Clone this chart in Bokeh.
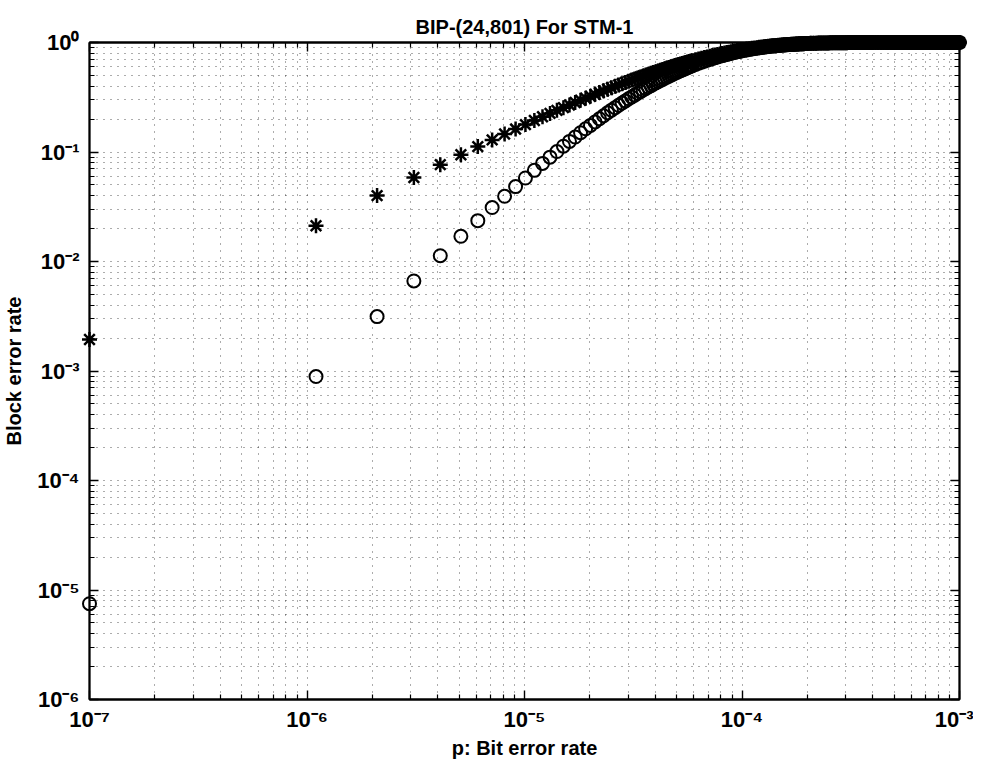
from bokeh.plotting import figure
from bokeh.models import LogAxis, CustomJSTickFormatter, FixedTicker, Range1d
from bokeh.embed import file_html
from bokeh.resources import INLINE

# ---- data (p in units of 1e-6) ----
p_micro = [
    0.1, 1.1, 2.1, 3.1, 4.1, 5.1, 6.1, 7.1, 8.1, 9.1,
    10.1, 11.1, 12.1, 13.1, 14.1, 15.1, 16.1, 17.1, 18.1, 19.1,
    20.1, 21.1, 22.1, 23.1, 24.1, 25.1, 26.1, 27.1, 28.1, 29.1,
    30.1, 31.1, 32.1, 33.1, 34.1, 35.1, 36.1, 37.1, 38.1, 39.1,
    40.1, 41.1, 42.1, 43.1, 44.1, 45.1, 46.1, 47.1, 48.1, 49.1,
    50.1, 51.1, 52.1, 53.1, 54.1, 55.1, 56.1, 57.1, 58.1, 59.1,
    61.1, 63.1, 65.1, 67.1, 69.1, 71.1, 73.1, 75.1, 77.1, 79.1,
    81.1, 83.1, 85.1, 87.1, 89.1, 91.1, 93.1, 95.1, 97.1, 99.1,
    102.1, 105.1, 108.1, 111.1, 114.1, 117.1, 120.1, 123.1, 126.1, 129.1,
    132.1, 135.1, 138.1, 141.1, 144.1, 147.1, 150.1, 153.1, 156.1, 159.1,
    162.1, 165.1, 168.1, 171.1, 174.1, 177.1, 180.1, 183.1, 186.1, 189.1,
    192.1, 195.1, 198.1, 201.1,
    207.1, 213.1, 219.1, 225.1, 231.1, 237.1, 243.1, 249.1, 255.1, 261.1,
    267.1, 273.1, 279.1, 285.1, 291.1, 297.1, 303.1, 309.1, 315.1, 321.1,
    327.1, 333.1, 339.1, 345.1, 351.1, 357.1, 363.1, 369.1, 375.1, 381.1,
    387.1, 393.1, 399.1,
    411.1, 423.1, 435.1, 447.1, 459.1, 471.1, 483.1, 495.1, 507.1, 519.1,
    531.1, 543.1, 555.1, 567.1, 579.1, 591.1, 603.1, 615.1, 627.1, 639.1,
    651.1, 663.1, 675.1, 687.1, 699.1, 711.1, 723.1, 735.1, 747.1, 759.1,
    771.1, 783.1, 795.1, 807.1, 819.1, 831.1, 843.1, 855.1, 867.1, 879.1,
    891.1, 903.1, 915.1, 927.1, 939.1, 951.1, 963.1, 975.1, 987.1, 999.1,
]

star_rate = [
    0.00194, 0.0212, 0.0400, 0.0585, 0.0766, 0.0944, 0.112, 0.129, 0.146, 0.162,
    0.178, 0.194, 0.210, 0.225, 0.240, 0.254, 0.269, 0.283, 0.297, 0.310,
    0.323, 0.336, 0.349, 0.362, 0.374, 0.386, 0.398, 0.410, 0.421, 0.432,
    0.443, 0.454, 0.464, 0.475, 0.485, 0.495, 0.504, 0.514, 0.523, 0.532,
    0.541, 0.550, 0.559, 0.567, 0.576, 0.584, 0.592, 0.600, 0.607, 0.615,
    0.622, 0.630, 0.637, 0.644, 0.651, 0.657, 0.664, 0.670, 0.677, 0.683,
    0.695, 0.707, 0.718, 0.729, 0.739, 0.749, 0.759, 0.768, 0.777, 0.785,
    0.793, 0.801, 0.809, 0.816, 0.823, 0.830, 0.836, 0.843, 0.849, 0.854,
    0.863, 0.870, 0.878, 0.885, 0.891, 0.897, 0.903, 0.909, 0.914, 0.919,
    0.923, 0.928, 0.932, 0.936, 0.939, 0.943, 0.946, 0.949, 0.952, 0.955,
    0.957, 0.960, 0.962, 0.964, 0.966, 0.968, 0.970, 0.972, 0.973, 0.975,
    0.976, 0.977, 0.979, 0.980,
    0.982, 0.984, 0.986, 0.987, 0.989, 0.990, 0.991, 0.992, 0.993, 0.994,
    0.994, 0.995, 0.996, 0.996, 0.997, 0.997, 0.997, 0.998, 0.998, 0.998,
    0.998, 0.998, 0.999, 0.999, 0.999, 0.999, 0.999, 0.999, 0.999, 0.999,
    0.999, 1.0, 1.0,
    1.0, 1.0, 1.0, 1.0, 1.0, 1.0, 1.0, 1.0, 1.0, 1.0,
    1.0, 1.0, 1.0, 1.0, 1.0, 1.0, 1.0, 1.0, 1.0, 1.0,
    1.0, 1.0, 1.0, 1.0, 1.0, 1.0, 1.0, 1.0, 1.0, 1.0,
    1.0, 1.0, 1.0, 1.0, 1.0, 1.0, 1.0, 1.0, 1.0, 1.0,
    1.0, 1.0, 1.0, 1.0, 1.0, 1.0, 1.0, 1.0, 1.0, 1.0,
]

circle_rate = [
    7.5e-6, 8.9e-4, 0.00314, 0.00664, 0.0113, 0.0170, 0.0236, 0.0311, 0.0394, 0.0483,
    0.0579, 0.0680, 0.0787, 0.0897, 0.101, 0.113, 0.125, 0.137, 0.150, 0.163,
    0.175, 0.188, 0.201, 0.214, 0.228, 0.241, 0.254, 0.267, 0.280, 0.293,
    0.306, 0.318, 0.331, 0.344, 0.356, 0.368, 0.380, 0.392, 0.404, 0.416,
    0.428, 0.439, 0.450, 0.461, 0.472, 0.483, 0.493, 0.504, 0.514, 0.524,
    0.534, 0.543, 0.553, 0.562, 0.571, 0.580, 0.589, 0.598, 0.606, 0.614,
    0.630, 0.646, 0.661, 0.675, 0.689, 0.702, 0.714, 0.726, 0.738, 0.749,
    0.759, 0.770, 0.779, 0.788, 0.797, 0.806, 0.814, 0.822, 0.829, 0.836,
    0.846, 0.856, 0.865, 0.873, 0.881, 0.888, 0.895, 0.901, 0.907, 0.913,
    0.918, 0.923, 0.927, 0.932, 0.936, 0.940, 0.943, 0.947, 0.950, 0.953,
    0.955, 0.958, 0.961, 0.963, 0.965, 0.967, 0.969, 0.971, 0.972, 0.974,
    0.976, 0.977, 0.978, 0.980,
    0.982, 0.984, 0.986, 0.987, 0.989, 0.990, 0.991, 0.992, 0.993, 0.994,
    0.994, 0.995, 0.996, 0.996, 0.997, 0.997, 0.997, 0.998, 0.998, 0.998,
    0.998, 0.998, 0.999, 0.999, 0.999, 0.999, 0.999, 0.999, 0.999, 0.999,
    0.999, 1.0, 1.0,
    1.0, 1.0, 1.0, 1.0, 1.0, 1.0, 1.0, 1.0, 1.0, 1.0,
    1.0, 1.0, 1.0, 1.0, 1.0, 1.0, 1.0, 1.0, 1.0, 1.0,
    1.0, 1.0, 1.0, 1.0, 1.0, 1.0, 1.0, 1.0, 1.0, 1.0,
    1.0, 1.0, 1.0, 1.0, 1.0, 1.0, 1.0, 1.0, 1.0, 1.0,
    1.0, 1.0, 1.0, 1.0, 1.0, 1.0, 1.0, 1.0, 1.0, 1.0,
]

x_decades = [-7, -6, -5, -4, -3]
y_decades = [-6, -5, -4, -3, -2, -1, 0]
title_text = "BIP-(24,801) For STM-1"
x_label = "p: Bit error rate"
y_label = "Block error rate"

assert len(p_micro) == len(star_rate) == len(circle_rate), (len(p_micro), len(star_rate), len(circle_rate))
p_values = [v * 1e-6 for v in p_micro]

FONT = "Liberation Sans"

x_major = [10.0 ** e for e in x_decades]
y_major = [10.0 ** e for e in y_decades]
x_minor = [m * 10.0 ** e for e in x_decades[:-1] for m in range(2, 10)]
y_minor = [m * 10.0 ** e for e in y_decades[:-1] for m in range(2, 10)]

p = figure(frame_width=870, frame_height=657,
           x_axis_type="log", y_axis_type="log",
           x_range=Range1d(x_major[0], x_major[-1]),
           y_range=Range1d(y_major[0], y_major[-1]),
           output_backend="svg", toolbar_location=None,
           min_border_left=81, min_border_right=14,
           min_border_top=42, min_border_bottom=55,
           title=title_text)

sup_js = """
const sup = {"-":"\u207b","0":"\u2070","1":"\u00b9","2":"\u00b2","3":"\u00b3",
             "4":"\u2074","5":"\u2075","6":"\u2076","7":"\u2077","8":"\u2078","9":"\u2079"};
const e = Math.round(Math.log10(tick));
return "10" + String(e).split("").map(c => sup[c]).join("");
"""

xt = FixedTicker(ticks=x_major, minor_ticks=x_minor)
yt = FixedTicker(ticks=y_major, minor_ticks=y_minor)

def style_axis(ax, ticker, show_labels):
    ax.ticker = ticker
    ax.axis_line_color = "black"
    ax.axis_line_width = 1.8
    ax.major_tick_in = 9
    ax.major_tick_out = 0
    ax.minor_tick_in = 5
    ax.minor_tick_out = 0
    ax.major_tick_line_color = "black"
    ax.minor_tick_line_color = "black"
    ax.major_tick_line_width = 1.4
    ax.minor_tick_line_width = 1.2
    ax.formatter = CustomJSTickFormatter(code=sup_js)
    if show_labels:
        ax.major_label_text_font = FONT
        ax.major_label_text_font_size = "22px"
        ax.major_label_text_font_style = "bold"
        ax.major_label_text_color = "black"
        ax.axis_label_text_font = FONT
        ax.axis_label_text_font_size = "20px"
        ax.axis_label_text_font_style = "bold"
        ax.axis_label_text_color = "black"
    else:
        ax.major_label_text_font_size = "2px"
        ax.major_label_text_alpha = 0.0
        ax.major_label_standoff = 0

style_axis(p.xaxis[0], xt, True)
style_axis(p.yaxis[0], yt, True)
p.xaxis[0].axis_label = x_label
p.yaxis[0].axis_label = y_label
p.xaxis[0].major_label_standoff = 7
p.yaxis[0].major_label_standoff = 10
p.xaxis[0].axis_label_standoff = 2
p.yaxis[0].axis_label_standoff = 9

top_axis = LogAxis()
right_axis = LogAxis()
style_axis(top_axis, xt, False)
style_axis(right_axis, yt, False)
p.add_layout(top_axis, "above")
p.add_layout(right_axis, "right")

for g in (p.xgrid[0], p.ygrid[0]):
    g.grid_line_color = "black"
    g.grid_line_dash = "1 6"
    g.grid_line_alpha = 0.65
    g.minor_grid_line_color = "black"
    g.minor_grid_line_dash = "1 6"
    g.minor_grid_line_alpha = 0.65

p.outline_line_color = "black"
p.outline_line_width = 1.8
p.background_fill_color = "white"
p.border_fill_color = "white"

p.title.text_font = FONT
p.title.text_font_size = "20px"
p.title.text_font_style = "bold"
p.title.text_color = "black"
p.title.align = "center"
p.title.offset = -4
p.title.standoff = 10

p.scatter(p_values, circle_rate, marker="circle", size=13,
          fill_color=None, line_color="black", line_width=2.0, level="overlay")
p.scatter(p_values, star_rate, marker="asterisk", size=15,
          line_color="black", line_width=2.5, level="overlay")

open("out.html", "w", encoding="utf-8").write(file_html(p, INLINE))
